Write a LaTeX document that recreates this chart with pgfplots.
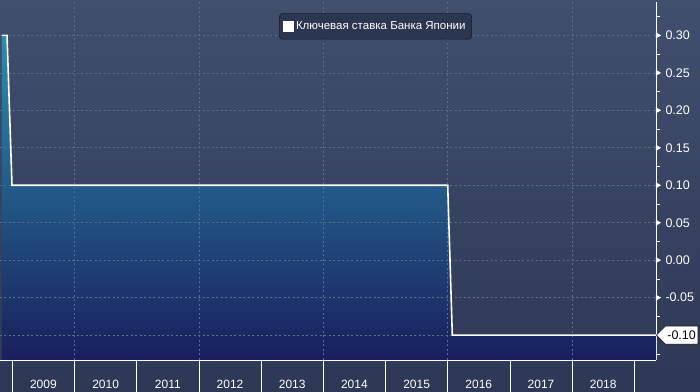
\documentclass[border=0pt]{standalone}
\usepackage{pgfplots}
\pgfplotsset{compat=1.18}
\usepackage{fontspec}
\setmainfont{Liberation Sans}
\usetikzlibrary{shapes.symbols}
\definecolor{bgtop}{HTML}{414F6E}
\definecolor{bgbot}{HTML}{2D3854}
\definecolor{filltop}{HTML}{2A8FB0}
\definecolor{fillmid}{HTML}{1E5E8C}
\definecolor{fillbot}{HTML}{1A1F5C}
\definecolor{gridc}{HTML}{56708E}
\definecolor{legfill}{HTML}{2C3651}
\definecolor{legdraw}{HTML}{141927}
\begin{document}
\begin{tikzpicture}[x=1pt,y=1pt]
\useasboundingbox (0,0) rectangle (700,391);
\shade[top color=bgtop,bottom color=bgbot] (0,0) rectangle (700,391);
\begin{axis}[
  at={(0,41.5)}, anchor=south west,
  scale only axis, width=656pt, height=358pt,
  xmin=2008.802, xmax=2019.349, ymin=-0.1331, ymax=0.3447,
  clip=false,
  axis x line*=bottom, axis y line*=right,
  axis line style={white, line width=0.8pt, -},
  major tick length=0pt, minor tick length=0pt,
  tick style={draw=none},
  xtick={2009.5,2010.5,2011.5,2012.5,2013.5,2014.5,2015.5,2016.5,2017.5,2018.5},
  xticklabels={2009,2010,2011,2012,2013,2014,2015,2016,2017,2018},
  ytick={-0.1,-0.05,0,0.05,0.1,0.15,0.2,0.25,0.3},
  yticklabels={,-0.05,0.00,0.05,0.10,0.15,0.20,0.25,0.30},
  yticklabel pos=right,
  xticklabel style={text=white, font=\fontsize{12}{14}\selectfont, anchor=base, yshift=-29pt},
  yticklabel style={text=white, font=\fontsize{12.5}{14}\selectfont, anchor=west, xshift=6pt},
  legend style={at={(0.5724,0.9316)}, anchor=center, fill=legfill, draw=legdraw,
    rounded corners=3pt, text=white, font=\fontsize{11.5}{13}\selectfont,
    inner xsep=4pt, inner ysep=6pt, line width=0.6pt},
  legend image code/.code={\fill[white, sharp corners] (0pt,-4.5pt) rectangle (9pt,4.5pt);},
]
\addplot[draw=none, top color=filltop, middle color=fillmid, bottom color=fillbot, forget plot]
  coordinates {(2008.834,-0.1331) (2008.834,0.30) (2008.915,0.30) (2008.995,0.10)
    (2016.000,0.10) (2016.074,-0.10) (2019.349,-0.10) (2019.349,-0.1331)} -- cycle;
\pgfplotsinvokeforeach{-0.1,-0.05,0,0.05,0.1,0.15,0.2,0.25,0.3}{
  \draw[gridc, dash pattern=on 2pt off 2.5pt, line width=0.6pt]
    (axis cs:2008.802,#1) -- (axis cs:2019.349,#1);
}
\pgfplotsinvokeforeach{2010,2012,2014,2016,2018}{
  \draw[gridc, dash pattern=on 2pt off 2.5pt, line width=0.6pt]
    (axis cs:#1,-0.1331) -- (axis cs:#1,0.3447);
}
\addplot[white, line width=1.6pt, line join=miter]
  coordinates {(2008.834,0.30) (2008.915,0.30) (2008.995,0.10)
    (2016.000,0.10) (2016.074,-0.10) (2019.349,-0.10)};
\addlegendentry{Ключевая ставка Банка Японии}
\addplot[only marks, white, mark=triangle*, mark size=3pt,
  mark options={xshift=1.6pt, rotate=-90}, forget plot]
  coordinates {(2019.349,-0.05) (2019.349,0) (2019.349,0.05) (2019.349,0.10)
    (2019.349,0.15) (2019.349,0.20) (2019.349,0.25) (2019.349,0.30)};
\pgfplotsinvokeforeach{2009,2010,2011,2012,2013,2014,2015,2016,2017,2018,2019}{
  \draw[white, line width=0.6pt] (axis cs:#1,-0.1331) -- ++(0pt,-33pt);
}
\pgfplotsinvokeforeach{-0.125,-0.075,-0.025,0.025,0.075,0.125,0.175,0.225,0.275,0.325}{
  \draw[white, line width=0.6pt] (axis cs:2019.349,#1) -- ++(4pt,0pt);
}
\node[signal, signal to=west, fill=white, draw=black, line width=0.5pt, text=black,
  font=\fontsize{12.5}{14}\selectfont, inner xsep=2pt, inner ysep=2pt, anchor=west,
  minimum height=18pt] at (axis cs:2019.349,-0.10) {-0.10\hspace{4pt}};
\end{axis}
\end{tikzpicture}
\end{document}
